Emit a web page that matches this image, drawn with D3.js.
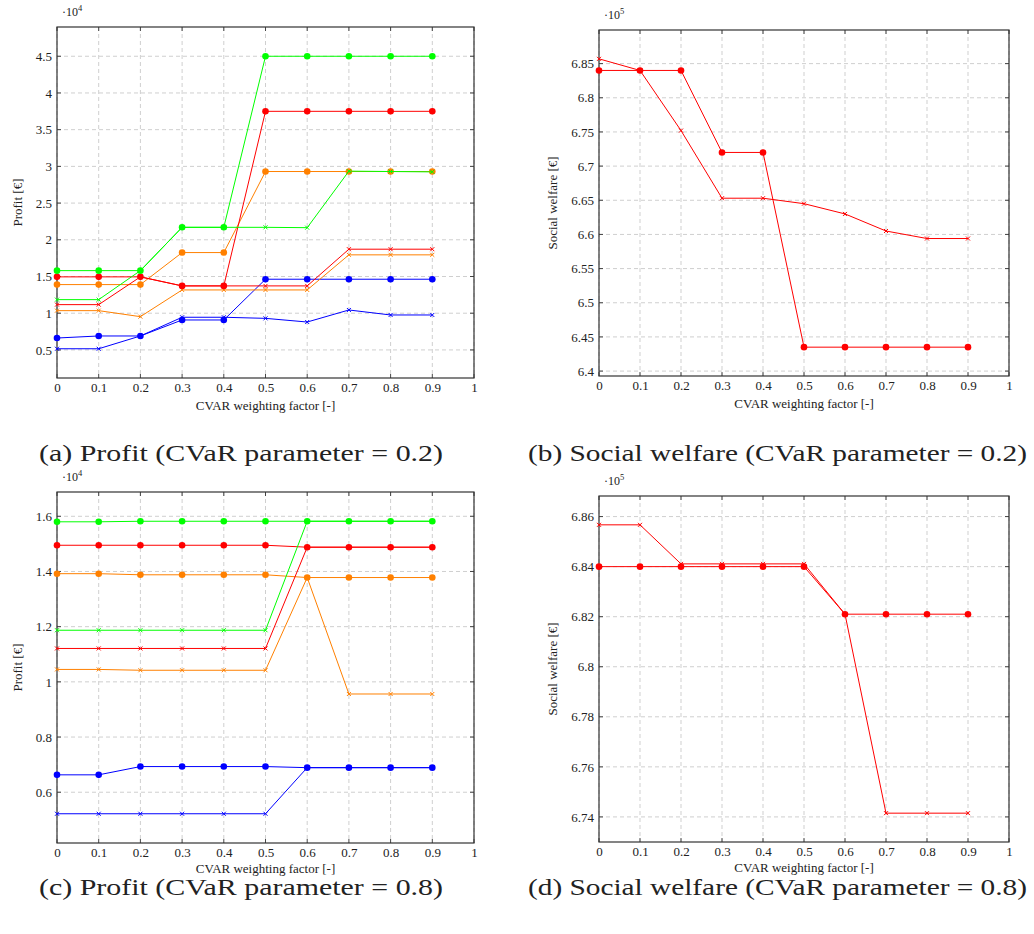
<!DOCTYPE html>
<html>
<head>
<meta charset="utf-8">
<script src="https://cdn.jsdelivr.net/npm/d3@7/dist/d3.min.js"></script>
<style>
  html, body { margin: 0; padding: 0; background: #fff; }
  svg { display: block; }
  svg text { font-family: "Liberation Serif", "Times New Roman", Times, serif; fill: #222; }
</style>
</head>
<body>
<svg id="fig" width="1034" height="934"></svg>
<script>
// CVaR weighting factor (x) and axis ticks
const cvarWeights = [0, 0.1, 0.2, 0.3, 0.4, 0.5, 0.6, 0.7, 0.8, 0.9];
const xTicks = [0, 0.1, 0.2, 0.3, 0.4, 0.5, 0.6, 0.7, 0.8, 0.9, 1];

// (a) Profit, CVaR parameter = 0.2  (values in 10^4 €)
const profitA_greenDot   = [1.58, 1.58, 1.58, 2.17, 2.17, 4.5, 4.5, 4.5, 4.5, 4.5];
const profitA_greenX     = [1.185, 1.185, 1.58, 2.17, 2.17, 2.17, 2.165, 2.935, 2.93, 2.925];
const profitA_redDot     = [1.495, 1.495, 1.495, 1.372, 1.372, 3.75, 3.75, 3.75, 3.75, 3.75];
const profitA_redX       = [1.117, 1.117, 1.495, 1.372, 1.372, 1.372, 1.372, 1.872, 1.872, 1.872];
const profitA_orangeDot  = [1.39, 1.39, 1.39, 1.826, 1.826, 2.93, 2.93, 2.93, 2.93, 2.93];
const profitA_orangeX    = [1.035, 1.035, 0.953, 1.317, 1.317, 1.317, 1.317, 1.795, 1.795, 1.795];
const profitA_blueDot    = [0.662, 0.69, 0.69, 0.908, 0.908, 1.463, 1.463, 1.463, 1.463, 1.463];
const profitA_blueX      = [0.516, 0.516, 0.69, 0.945, 0.945, 0.93, 0.88, 1.044, 0.976, 0.976];
const profitA_yTicks     = [0.5, 1, 1.5, 2, 2.5, 3, 3.5, 4, 4.5];

// (b) Social welfare, CVaR parameter = 0.2  (values in 10^5 €)
const welfareB_dot   = [6.84, 6.84, 6.84, 6.72, 6.72, 6.435, 6.435, 6.435, 6.435, 6.435];
const welfareB_x     = [6.857, 6.84, 6.752, 6.653, 6.653, 6.645, 6.63, 6.605, 6.594, 6.594];
const welfareB_yTicks = [6.4, 6.45, 6.5, 6.55, 6.6, 6.65, 6.7, 6.75, 6.8, 6.85];

// (c) Profit, CVaR parameter = 0.8  (values in 10^4 €)
const profitC_greenDot  = [1.58, 1.58, 1.582, 1.582, 1.582, 1.582, 1.582, 1.582, 1.582, 1.582];
const profitC_greenX    = [1.187, 1.187, 1.187, 1.187, 1.187, 1.187, 1.582, 1.582, 1.582, 1.582];
const profitC_redDot    = [1.495, 1.495, 1.495, 1.495, 1.495, 1.495, 1.488, 1.488, 1.488, 1.488];
const profitC_redX      = [1.121, 1.121, 1.121, 1.121, 1.121, 1.121, 1.488, 1.488, 1.488, 1.488];
const profitC_orangeDot = [1.392, 1.392, 1.388, 1.388, 1.388, 1.388, 1.378, 1.378, 1.378, 1.378];
const profitC_orangeX   = [1.045, 1.045, 1.042, 1.042, 1.042, 1.042, 1.378, 0.956, 0.956, 0.956];
const profitC_blueDot   = [0.663, 0.663, 0.693, 0.693, 0.693, 0.693, 0.689, 0.689, 0.689, 0.689];
const profitC_blueX     = [0.522, 0.522, 0.522, 0.522, 0.522, 0.522, 0.689, 0.689, 0.689, 0.689];
const profitC_yTicks    = [0.6, 0.8, 1, 1.2, 1.4, 1.6];

// (d) Social welfare, CVaR parameter = 0.8  (values in 10^5 €)
const welfareD_dot   = [6.84, 6.84, 6.84, 6.84, 6.84, 6.84, 6.821, 6.821, 6.821, 6.821];
const welfareD_x     = [6.8567, 6.8567, 6.8411, 6.8411, 6.8411, 6.8411, 6.821, 6.7415, 6.7415, 6.7415];
const welfareD_yTicks = [6.74, 6.76, 6.78, 6.8, 6.82, 6.84, 6.86];

const GREEN = "#00ff00", RED = "#ff0000", ORANGE = "#ff8000", BLUE = "#0000ff";
const SERIF = "Liberation Serif, Times New Roman, Times, serif";

const panels = [
  {
    box: { left: 57, top: 27, right: 474, bottom: 378 }, xLabelDy: 32,
    yTicks: profitA_yTicks, exponent: "4", yLabel: "Profit [€]", yLabelX: 22,
    caption: "(a) Profit (CVaR parameter = 0.2)", capX: [39, 443], capY: 461,
    series: [
      { v: profitA_blueDot, c: BLUE, m: "o" }, { v: profitA_blueX, c: BLUE, m: "x" },
      { v: profitA_orangeDot, c: ORANGE, m: "o" }, { v: profitA_orangeX, c: ORANGE, m: "x" },
      { v: profitA_redDot, c: RED, m: "o" }, { v: profitA_redX, c: RED, m: "x" },
      { v: profitA_greenDot, c: GREEN, m: "o" }, { v: profitA_greenX, c: GREEN, m: "x" }
    ]
  },
  {
    box: { left: 599, top: 30, right: 1009, bottom: 376 }, xLabelDy: 32,
    yTicks: welfareB_yTicks, exponent: "5", yLabel: "Social welfare [€]", yLabelX: 557,
    caption: "(b) Social welfare (CVaR parameter = 0.2)", capX: [528, 1027], capY: 461,
    series: [
      { v: welfareB_dot, c: RED, m: "o" }, { v: welfareB_x, c: RED, m: "x" }
    ]
  },
  {
    box: { left: 57, top: 492, right: 474, bottom: 843 }, xLabelDy: 30,
    yTicks: profitC_yTicks, exponent: "4", yLabel: "Profit [€]", yLabelX: 22,
    caption: "(c) Profit (CVaR parameter = 0.8)", capX: [39, 443], capY: 895,
    series: [
      { v: profitC_blueDot, c: BLUE, m: "o" }, { v: profitC_blueX, c: BLUE, m: "x" },
      { v: profitC_orangeDot, c: ORANGE, m: "o" }, { v: profitC_orangeX, c: ORANGE, m: "x" },
      { v: profitC_redDot, c: RED, m: "o" }, { v: profitC_redX, c: RED, m: "x" },
      { v: profitC_greenDot, c: GREEN, m: "o" }, { v: profitC_greenX, c: GREEN, m: "x" }
    ]
  },
  {
    box: { left: 599, top: 496, right: 1009, bottom: 842 }, xLabelDy: 30,
    yTicks: welfareD_yTicks, exponent: "5", yLabel: "Social welfare [€]", yLabelX: 557,
    caption: "(d) Social welfare (CVaR parameter = 0.8)", capX: [528, 1027], capY: 895,
    series: [
      { v: welfareD_dot, c: RED, m: "o" }, { v: welfareD_x, c: RED, m: "x" }
    ]
  }
];

const svg = d3.select("#fig");
const fmt = d => String(+d.toFixed(3));

panels.forEach(p => {
  const b = p.box;
  const g = svg.append("g");

  // y range: data extent enlarged by 10% on each side
  const all = p.series.flatMap(s => s.v);
  const [lo, hi] = d3.extent(all);
  const pad = (hi - lo) * 0.1;
  const x = d3.scaleLinear().domain([0, 1]).range([b.left, b.right]);
  const y = d3.scaleLinear().domain([lo - pad, hi + pad]).range([b.bottom, b.top]);

  // dashed grid
  const grid = g.append("g").attr("stroke", "#cfcfcf").attr("stroke-width", 1)
    .attr("stroke-dasharray", "4,3").attr("fill", "none");
  xTicks.forEach(t => {
    grid.append("line").attr("x1", x(t)).attr("x2", x(t)).attr("y1", b.top).attr("y2", b.bottom);
  });
  p.yTicks.forEach(t => {
    grid.append("line").attr("x1", b.left).attr("x2", b.right).attr("y1", y(t)).attr("y2", y(t));
  });

  // inward tick marks on all four sides
  const tk = g.append("g").attr("stroke", "#333").attr("stroke-width", 0.9);
  const L = 4;
  xTicks.forEach(t => {
    tk.append("line").attr("x1", x(t)).attr("x2", x(t)).attr("y1", b.bottom).attr("y2", b.bottom - L);
    tk.append("line").attr("x1", x(t)).attr("x2", x(t)).attr("y1", b.top).attr("y2", b.top + L);
  });
  p.yTicks.forEach(t => {
    tk.append("line").attr("x1", b.left).attr("x2", b.left + L).attr("y1", y(t)).attr("y2", y(t));
    tk.append("line").attr("x1", b.right).attr("x2", b.right - L).attr("y1", y(t)).attr("y2", y(t));
  });

  // axes via d3 (labels only; tick lines drawn above)
  const xAxis = g.append("g").attr("transform", `translate(0,${b.bottom})`)
    .call(d3.axisBottom(x).tickValues(xTicks).tickFormat(fmt).tickSize(0).tickPadding(5));
  const yAxis = g.append("g").attr("transform", `translate(${b.left},0)`)
    .call(d3.axisLeft(y).tickValues(p.yTicks).tickFormat(fmt).tickSize(0).tickPadding(5));
  [xAxis, yAxis].forEach(a => {
    a.attr("font-family", SERIF);
    a.select(".domain").remove();
    a.selectAll("text").attr("font-family", SERIF).attr("font-size", 13).attr("fill", "#222");
  });

  // frame
  g.append("rect").attr("x", b.left).attr("y", b.top)
    .attr("width", b.right - b.left).attr("height", b.bottom - b.top)
    .attr("fill", "none").attr("stroke", "#333").attr("stroke-width", 1.2);

  // series
  const line = d3.line().x((d, i) => x(cvarWeights[i])).y(d => y(d));
  p.series.forEach(s => {
    const sg = g.append("g");
    sg.append("path").datum(s.v).attr("d", line).attr("fill", "none")
      .attr("stroke", s.c).attr("stroke-width", 1);
    if (s.m === "o") {
      sg.selectAll("circle").data(s.v).join("circle")
        .attr("cx", (d, i) => x(cvarWeights[i])).attr("cy", d => y(d))
        .attr("r", 3.3).attr("fill", s.c);
    } else {
      sg.selectAll("path.mk").data(s.v).join("path").attr("class", "mk")
        .attr("transform", (d, i) => `translate(${x(cvarWeights[i])},${y(d)})`)
        .attr("d", "M-2,-2L2,2M-2,2L2,-2")
        .attr("stroke", s.c).attr("stroke-width", 1).attr("fill", "none");
    }
  });

  // scale multiplier
  const m = g.append("text").attr("x", b.left + 5).attr("y", b.top - 11.5)
    .attr("font-family", SERIF).attr("font-size", 12);
  m.append("tspan").text("·10");
  m.append("tspan").attr("dy", -5).attr("font-size", 8.5).text(p.exponent);

  // axis titles
  g.append("text").attr("x", (b.left + b.right) / 2).attr("y", b.bottom + p.xLabelDy)
    .attr("font-family", SERIF).attr("text-anchor", "middle").attr("font-size", 13)
    .text("CVAR weighting factor [-]");
  g.append("text").attr("transform", `translate(${p.yLabelX},${(b.top + b.bottom) / 2}) rotate(-90)`)
    .attr("font-family", SERIF).attr("text-anchor", "middle").attr("font-size", 13).text(p.yLabel);

  // caption
  g.append("text").attr("x", p.capX[0]).attr("y", p.capY)
    .attr("font-family", SERIF).attr("font-size", 23)
    .attr("textLength", p.capX[1] - p.capX[0]).attr("lengthAdjust", "spacingAndGlyphs")
    .attr("fill", "#111").text(p.caption);
});
</script>
</body>
</html>
